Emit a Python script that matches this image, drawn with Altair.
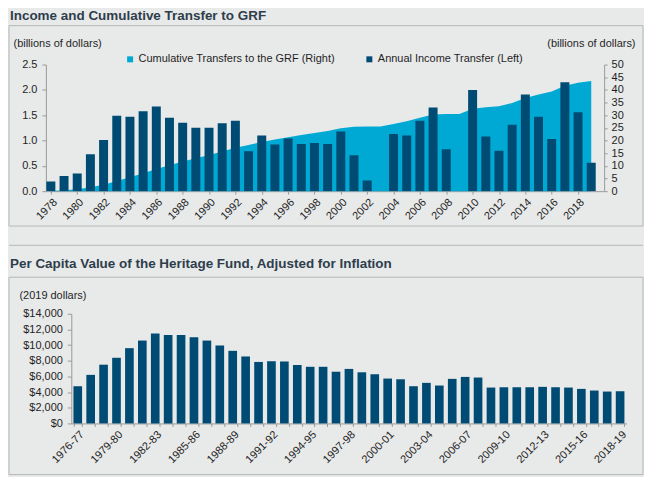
import altair as alt
import pandas as pd

# ---------------- data ----------------
years = list(range(1978, 2020))
annual_transfer = [0.19, 0.30, 0.35, 0.73, 1.01, 1.49, 1.47, 1.58, 1.67, 1.45,
                   1.35, 1.25, 1.25, 1.34, 1.39, 0.79, 1.10, 0.92, 1.04, 0.93,
                   0.95, 0.93, 1.18, 0.71, 0.21, None, 1.13, 1.10, 1.39, 1.65,
                   0.83, None, 2.00, 1.08, 0.80, 1.31, 1.91, 1.47, 1.03, 2.15,
                   1.56, 0.56]
cumulative_transfer = [0.1, 0.4, 0.8, 1.5, 2.5, 4.0, 5.5, 7.1, 8.8, 10.2,
                       11.7, 13.0, 14.3, 15.7, 17.1, 18.2, 19.4, 20.4, 21.3, 22.2,
                       23.0, 23.8, 24.8, 25.4, 25.5, 25.5, 26.5, 27.6, 29.0, 30.3,
                       30.5, 30.5, 32.5, 33.1, 33.5, 34.8, 36.8, 38.2, 39.4, 41.6,
                       42.8, 43.5]
top_ticks = list(range(1978, 2019, 2))
left_ticks = [0.0, 0.5, 1.0, 1.5, 2.0, 2.5]
right_ticks = list(range(0, 51, 5))

fiscal_years = ["1976-77", "1977-78", "1978-79", "1979-80", "1980-81", "1981-82",
                "1982-83", "1983-84", "1984-85", "1985-86", "1986-87", "1987-88",
                "1988-89", "1989-90", "1990-91", "1991-92", "1992-93", "1993-94",
                "1994-95", "1995-96", "1996-97", "1997-98", "1998-99", "1999-00",
                "2000-01", "2001-02", "2002-03", "2003-04", "2004-05", "2005-06",
                "2006-07", "2007-08", "2008-09", "2009-10", "2010-11", "2011-12",
                "2012-13", "2013-14", "2014-15", "2015-16", "2016-17", "2017-18",
                "2018-19"]
per_capita = [4750, 6200, 7500, 8380, 9610, 10580, 11470, 11290, 11290, 11010,
              10580, 9950, 9270, 8550, 7850, 7940, 7910, 7450, 7230, 7230,
              6600, 6960, 6530, 6280, 5730, 5640, 4750, 5180, 4840, 5690,
              5940, 5860, 4580, 4620, 4620, 4620, 4670, 4620, 4580, 4410,
              4200, 4070, 4110]
bottom_ticks = list(range(0, 14001, 2000))

series_names = ["Cumulative Transfers to the GRF (Right)", "Annual Income Transfer (Left)"]
title_top = "Income and Cumulative Transfer to GRF"
title_bottom = "Per Capita Value of the Heritage Fund, Adjusted for Inflation"

# ---------------- style ----------------
BG = "#e8e9e9"
DARK = "#004b73"
CYAN = "#00a9d4"
LINE = "#b4b8bb"
AXIS = "#9a9a9a"
TXT = "#1f1f1f"
TITLE = "#2e3d4c"
FONT = "Liberation Sans"

top_df = pd.DataFrame({"year": years, "annual": annual_transfer, "cum": cumulative_transfer})
bot_df = pd.DataFrame({"fy": fiscal_years, "value": per_capita})
deco = pd.DataFrame({"k": [0]})

# both panels share the same plot origin (page x = 45)
BOX_L, BOX_R = -37, 599

# ---------------- top panel ----------------
TW, TH = 560, 127
color_scale = alt.Scale(domain=series_names, range=[CYAN, DARK])
legend = alt.Legend(title=None, orient="none", legendX=79, legendY=-11,
                    direction="horizontal", symbolType="square", symbolSize=36,
                    symbolStrokeWidth=0, symbolOpacity=1, labelFontSize=11,
                    labelColor=TXT, labelFont=FONT, labelLimit=300, labelOffset=3,
                    columnPadding=28, padding=0)

x_top = alt.X("year:Q",
              scale=alt.Scale(domain=[1978, 2019.6], nice=False, zero=False),
              axis=alt.Axis(values=top_ticks, format="d", labelAngle=-45,
                            labelFlush=False, tickSize=3, labelPadding=2,
                            title=None, grid=False, labelOverlap=False))

top_box = alt.Chart(deco).mark_rect(fillOpacity=0, stroke=LINE, strokeWidth=1).encode(
    x=alt.value(BOX_L), x2=alt.value(BOX_R), y=alt.value(-39), y2=alt.value(162))
top_title = alt.Chart(deco).mark_text(
    text=title_top, align="left", baseline="alphabetic", font=FONT,
    fontSize=13.5, fontWeight="bold", color=TITLE).encode(
    x=alt.value(BOX_L + 1), y=alt.value(-44.5))

area = alt.Chart(top_df).transform_calculate(
    series="'Cumulative Transfers to the GRF (Right)'"
).mark_area(opacity=1, interpolate="linear").encode(
    x=x_top,
    y=alt.Y("cum:Q", scale=alt.Scale(domain=[0, 50], nice=False),
            axis=alt.Axis(orient="right", values=right_ticks, tickSize=3,
                          labelPadding=4, grid=False,
                          title="(billions of dollars)", titleAngle=0,
                          titleAlign="right", titleBaseline="middle",
                          titleX=31, titleY=-21)),
    color=alt.Color("series:N", scale=color_scale, legend=legend))

bars = alt.Chart(top_df).transform_calculate(
    series="'Annual Income Transfer (Left)'"
).mark_bar(size=9, clip=True).encode(
    x=x_top,
    y=alt.Y("annual:Q", scale=alt.Scale(domain=[0, 2.5], nice=False),
            axis=alt.Axis(orient="left", values=left_ticks, format=".1f",
                          tickSize=4, labelPadding=5, grid=False,
                          title="(billions of dollars)", titleAngle=0,
                          titleAlign="left", titleBaseline="middle",
                          titleX=-33, titleY=-21)),
    color=alt.Color("series:N", scale=color_scale, legend=legend))

top = alt.layer(top_box, top_title, area, bars).resolve_scale(
    y="independent").properties(width=TW, height=TH)

# ---------------- bottom panel ----------------
BW, BH = 582.5, 110
SHIFT = 25.5   # bottom plot starts 25.5px right of the top plot
label_expr = "(toNumber(substring(datum.value, 0, 4)) - 1976) % 3 == 0 ? datum.value : ''"

bot_rule = alt.Chart(deco).mark_rule(stroke=LINE, strokeWidth=1).encode(
    x=alt.value(BOX_L), x2=alt.value(BOX_R), y=alt.value(-68.7))
bot_box = alt.Chart(deco).mark_rect(fillOpacity=0, stroke=LINE, strokeWidth=1).encode(
    x=alt.value(BOX_L), x2=alt.value(BOX_R), y=alt.value(-36.7), y2=alt.value(161.3))
bot_title = alt.Chart(deco).mark_text(
    text=title_bottom, align="left", baseline="alphabetic", font=FONT,
    fontSize=13.5, fontWeight="bold", color=TITLE).encode(
    x=alt.value(BOX_L + 1), y=alt.value(-45.7))

bot_bars = alt.Chart(bot_df).mark_bar(color=DARK).encode(
    x=alt.X("fy:N", sort=fiscal_years,
            scale=alt.Scale(paddingInner=0.33, paddingOuter=0.165, range=[SHIFT, BW]),
            axis=alt.Axis(title=None, labelAngle=-45, tickBand="extent",
                          labelExpr=label_expr, labelOverlap=False,
                          tickSize=3, labelPadding=2, grid=False)),
    y=alt.Y("value:Q", scale=alt.Scale(domain=[0, 14000], nice=False),
            axis=alt.Axis(values=bottom_ticks, format="$,.0f", tickSize=4,
                          labelPadding=5, grid=False, offset=-SHIFT,
                          title="(2019 dollars)", titleAngle=0,
                          titleAlign="left", titleBaseline="middle",
                          titleX=-52.5, titleY=-18)))

bottom = alt.layer(bot_rule, bot_box, bot_title, bot_bars).properties(width=BW, height=BH)

chart = alt.vconcat(top, bottom, spacing=17).resolve_scale(
    color="independent").resolve_legend(color="independent").properties(
    padding=0, background=BG
).configure_view(stroke="transparent").configure_axis(
    labelFont=FONT, labelFontSize=11, labelColor=TXT,
    titleFont=FONT, titleFontSize=11, titleColor=TXT, titleFontWeight="normal",
    domainColor=AXIS, tickColor=AXIS, grid=False)

chart.save("out.html", embed_options={"renderer": "svg", "actions": False})
